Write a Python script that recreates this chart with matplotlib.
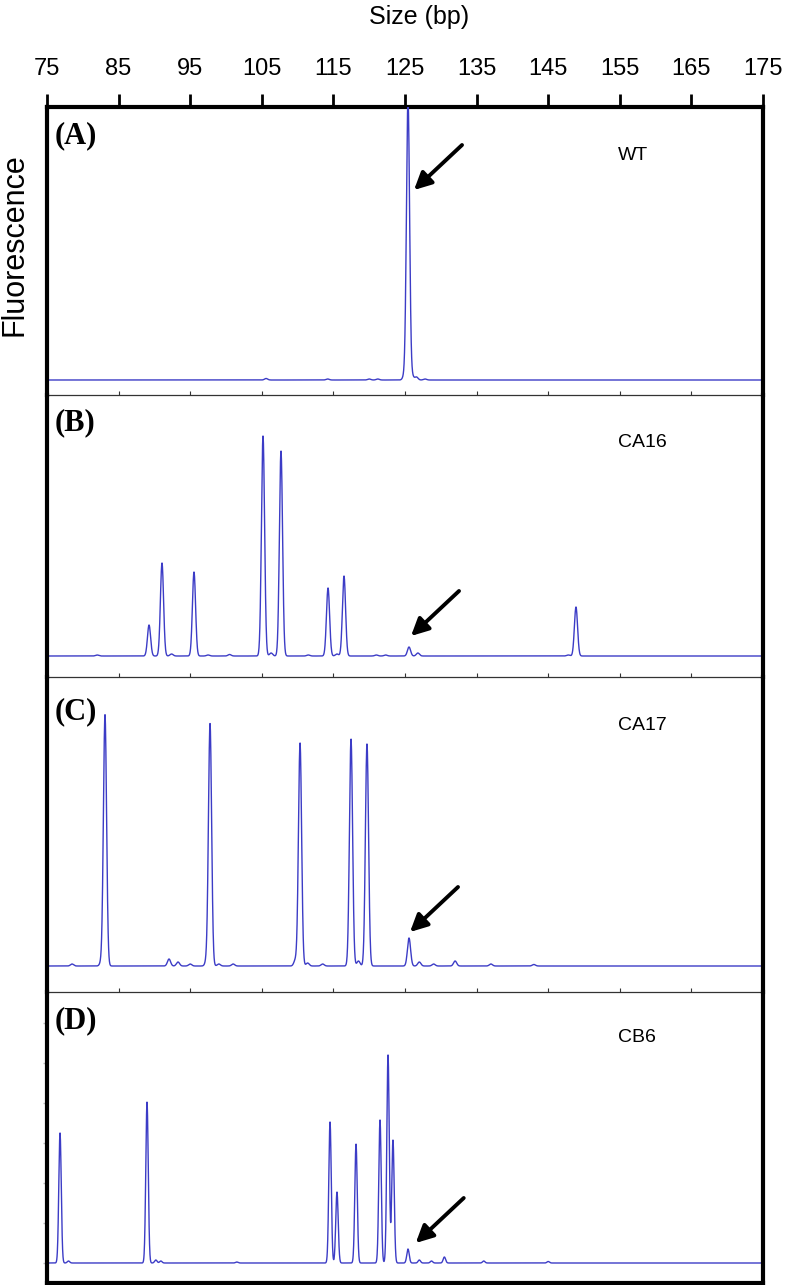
import numpy as np
import matplotlib.pyplot as plt

# fragment sizes (bp) on the shared top axis
size_ticks = np.arange(75, 176, 10)

# peak positions (bp) and heights (relative fluorescence)
wt_pos = [105.6, 114.2, 120.0, 121.2, 124.9, 125.42, 126.0, 126.6, 127.8]
wt_height = [1.5, 1.0, 1.0, 1.0, 4.0, 280, 4.0, 3.0, 1.0]

ca16_pos = [82.0, 89.25, 91.06, 92.4, 95.53, 97.5, 100.5, 105.17, 106.3, 107.68,
            111.5, 114.25, 115.5, 116.48, 121.0, 122.3, 125.56, 126.8, 147.8, 148.88]
ca16_height = [1, 31, 93, 2, 84, 1, 1.5, 220, 3, 205,
               1, 68, 2, 80, 1, 1, 9, 3, 1, 49]

ca17_pos = [78.5, 82.6, 83.1, 92.04, 93.3, 95.0, 97.3, 97.77, 99.0, 101.0,
            109.7, 110.34, 111.4, 113.5, 117.46, 118.5, 119.69, 125.56, 127.0,
            129.0, 132.0, 137.0, 143.0]
ca17_height = [2, 4, 251, 7, 4, 2, 5, 242, 2, 2,
               6, 223, 3, 2, 227, 5, 222, 28, 4,
               2, 5, 2, 1.5]

cb6_pos = [76.82, 78.0, 88.97, 90.2, 90.9, 101.5, 114.53, 115.5, 118.16,
           121.51, 122.63, 123.32, 125.42, 127.0, 128.7, 130.5, 136.0, 145.0]
cb6_height = [130, 2, 161, 3, 2, 1, 141, 71, 119,
              143, 208, 123, 14, 3, 2, 6, 2, 1.5]

panel_tags = ['(A)', '(B)', '(C)', '(D)']
sample_names = ['WT', 'CA16', 'CA17', 'CB6']
positions = [wt_pos, ca16_pos, ca17_pos, cb6_pos]
heights = [wt_height, ca16_height, ca17_height, cb6_height]
peak_sigma = [0.22, 0.22, 0.22, 0.17]

# y range of each panel (baseline at 0)
y_limits = [(-15, 273), (-21, 261), (-26, 289), (-20, 271)]
# arrow tips pointing at the 125 bp product
arrow_tips = [(126.26, 190), (125.84, 20), (125.70, 34), (126.5, 20)]

W, H = 786, 1285
fig = plt.figure(figsize=(W / 100, H / 100), dpi=100)
plt.rcParams['font.family'] = ['Liberation Sans', 'DejaVu Sans']

# panel edges in pixels (top, bottom)
edges = [(107, 395), (395, 677), (677, 992), (992, 1283)]
left_px, right_px = 47, 763

x = np.linspace(75, 175, 5000)
line_color = '#3c3cc6'

axes = []
for i, (top, bot) in enumerate(edges):
    ax = fig.add_axes([left_px / W, 1 - bot / H, (right_px - left_px) / W, (bot - top) / H])
    ax.patch.set_visible(False)
    y = np.zeros_like(x)
    for p, h in zip(positions[i], heights[i]):
        y += h * np.exp(-0.5 * ((x - p) / peak_sigma[i]) ** 2)
    ax.plot(x, y, color=line_color, lw=1.0)
    ax.set_xlim(75, 175)
    ax.set_ylim(*y_limits[i])
    ax.set_xticks(size_ticks)

    for s in ['left', 'right']:
        ax.spines[s].set_linewidth(3)
    ax.spines['top'].set_visible(False)
    if i < 3:
        ax.spines['bottom'].set_linewidth(0.9)
        ax.spines['bottom'].set_color('#333333')
        ax.tick_params(axis='x', direction='in', length=3, width=0.8,
                       color='#333333', labelbottom=False)
    else:
        ax.spines['bottom'].set_linewidth(3)
        ax.tick_params(axis='x', bottom=False, labelbottom=False)

    if i == 3:
        ax.set_yticks(np.arange(0, 241, 40))
        ax.tick_params(axis='y', direction='out', length=3, width=1,
                       color='#bbbbbb', labelleft=False)
    else:
        ax.set_yticks([])

    ax.text(0.011, 0.90 if i != 2 else 0.89, panel_tags[i], transform=ax.transAxes,
            fontsize=22, fontweight='bold', family=['Liberation Serif', 'DejaVu Serif'],
            va='center', ha='left')
    ax.text(0.797, 0.83 if i < 2 else 0.845, sample_names[i], transform=ax.transAxes,
            fontsize=14, va='center', ha='left')
    ax.annotate('', xy=arrow_tips[i], xytext=(48, 45), textcoords='offset pixels',
                arrowprops=dict(arrowstyle='-|>', lw=2.8, color='black',
                                mutation_scale=26, shrinkA=0, shrinkB=0))
    axes.append(ax)

# size scale along the top of the first panel
sec = axes[0].secondary_xaxis('top')
sec.set_xticks(size_ticks)
sec.spines['top'].set_linewidth(3)
sec.tick_params(axis='x', direction='out', length=9.5, width=2, color='black',
                labelsize=17, pad=10)

fig.text(419 / W, 1 - 17 / H, 'Size (bp)', fontsize=18, ha='center', va='center')
fig.text(15 / W, 1 - 245 / H, 'Fluorescence', fontsize=22, rotation=90,
         ha='center', va='center')

fig.savefig('out.png', dpi=100)
